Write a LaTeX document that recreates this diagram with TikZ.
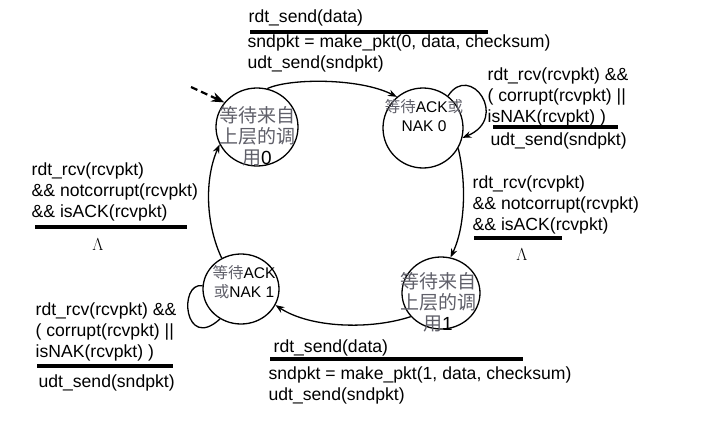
\documentclass[tikz,border=0pt]{standalone}
\usepackage{fontspec}
\setmainfont{Liberation Sans}
\newfontfamily\cjkfont{Noto Sans CJK SC}
\usetikzlibrary{shapes.geometric,arrows.meta}
\definecolor{zhgray}{RGB}{95,95,105}
\newcommand{\zh}[1]{{\cjkfont\color{zhgray}#1}}
\tikzset{
  state/.style={draw, ellipse, inner sep=0pt},
  bigtxt/.style={font=\fontsize{19}{21}\selectfont, align=center, inner sep=0pt},
  smalltxt/.style={font=\fontsize{15.5}{19}\selectfont, align=center, inner sep=0pt},
  lbl/.style={font=\fontsize{17.6}{20.7}\selectfont, align=left, anchor=base west, inner sep=0pt},
  rule/.style={line width=3.2pt}
}
\begin{document}
\begin{tikzpicture}[x=1pt,y=-1pt,>=Stealth,line width=1.3pt]
\useasboundingbox (0,0) rectangle (705,431);
% states
\node[state, minimum width=82pt, minimum height=78pt] (s0) at (257,127) {};
\node[state, minimum width=80pt, minimum height=80pt] (s1) at (423,128) {};
\node[state, minimum width=78pt, minimum height=72pt] (s2) at (441,293) {};
\node[state, minimum width=76pt, minimum height=70pt] (s3) at (241,289) {};
\node[bigtxt] (s0t) at (257,136) {\zh{等待来自}\\\zh{上层的调}\\\zh{用}0};
\node[smalltxt] (s1t) at (424,116) {\zh{等待}ACK\zh{或}\\NAK 0};
\node[bigtxt] (s2t) at (438,302) {\zh{等待来自}\\\zh{上层的调}\\\zh{用}1};
\node[smalltxt] (s3t) at (244,282) {\zh{等待}ACK\\\zh{或}NAK 1};
\coordinate (init) at (191,87);
% transitions
\draw[->, dash pattern=on 7pt off 4pt, line width=2.2pt] (init) -- (s0.143);
\draw[->] (s0.75) .. controls (290,78) and (360,78) .. (s1.130);
\draw[->] (s1.52) .. controls (470,62) and (510,118) .. (s1.-14);
\draw[->] (s1.-30) .. controls (466,180) and (466,225) .. (s2.75);
\draw[->] (s2.218) .. controls (370,330) and (310,328) .. (s3.335);
\draw (s3.175) .. controls (178,282) and (184,352) .. (s3.235);
\draw[->] (s3.122) .. controls (206,225) and (204,180) .. (s0.205);
% events and actions (multi-line nodes sit on their last baseline)
\node[lbl] (g01) at (248,23) {rdt\_send(data)};
\draw[rule] (250,32) -- (488,32);
\node[lbl] (a01) at (247,68) {sndpkt = make\_pkt(0, data, checksum)\\udt\_send(sndpkt)};
\node[lbl] (g11) at (487,122) {rdt\_rcv(rcvpkt) \&\&\\( corrupt(rcvpkt) ||\\isNAK(rcvpkt) )};
\draw[rule] (493,127) -- (618,127);
\node[lbl] (a11) at (490,145) {udt\_send(sndpkt)};
\node[lbl] (g12) at (472,230) {rdt\_rcv(rcvpkt)\\\&\& notcorrupt(rcvpkt)\\\&\& isACK(rcvpkt)};
\draw[rule] (474,238) -- (562,238);
\node[lbl, anchor=base] (a12) at (522,260) {$\Lambda$};
\node[lbl] (g23) at (273,352) {rdt\_send(data)};
\draw[rule] (270,359) -- (523,359);
\node[lbl] (a23) at (268,400) {sndpkt = make\_pkt(1, data, checksum)\\udt\_send(sndpkt)};
\node[lbl] (g33) at (35,357) {rdt\_rcv(rcvpkt) \&\&\\( corrupt(rcvpkt) ||\\isNAK(rcvpkt) )};
\draw[rule] (37,366) -- (173,366);
\node[lbl] (a33) at (38,387) {udt\_send(sndpkt)};
\node[lbl] (g30) at (31,217) {rdt\_rcv(rcvpkt)\\\&\& notcorrupt(rcvpkt)\\\&\& isACK(rcvpkt)};
\draw[rule] (35,227) -- (187,227);
\node[lbl, anchor=base] (a30) at (98,250) {$\Lambda$};
\end{tikzpicture}
\end{document}
